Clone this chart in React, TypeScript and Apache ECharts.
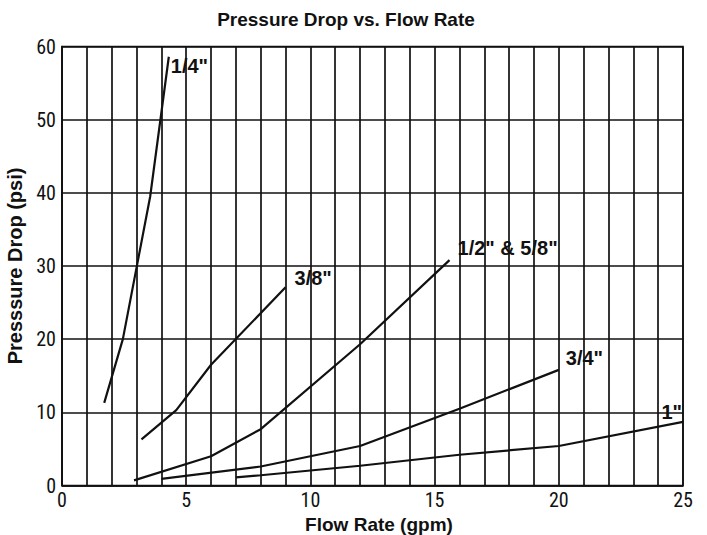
import React, { useEffect, useRef } from "react";
import * as echarts from "echarts";

const BOLD_FONT = "'Liberation Sans', Arial, sans-serif";
const TICK_FONT = "'Roboto Condensed', 'Liberation Sans', sans-serif";

const titleText = "Pressure Drop vs. Flow Rate";
const xName = "Flow Rate (gpm)";
const yName = "Presssure Drop (psi)";
const xMin = 0, xMax = 25, yMin = 0, yMax = 60;

const seriesNames = ['1/4"', '3/8"', '1/2" & 5/8"', '3/4"', '1"'];
const quarter = [[1.7, 11.3], [2.45, 20], [3.55, 39.5], [4.3, 58.6]];
const threeEighths = [[3.2, 6.3], [4.6, 10.3], [6, 16.5], [9, 27.1]];
const halfFiveEighths = [[2.9, 0.7], [6, 4], [8, 7.7], [12, 19.3], [15.6, 30.8]];
const threeQuarter = [[4, 0.9], [8, 2.6], [12, 5.4], [16, 10.5], [20, 15.8]];
const oneInch = [[7, 1.1], [8, 1.4], [12, 2.7], [16, 4.2], [20, 5.4], [25, 8.7]];

const seriesData = [quarter, threeEighths, halfFiveEighths, threeQuarter, oneInch];
const labelOffsets: any[] = [
  { offset: [2, 9] },
  { offset: [9, -9] },
  { offset: [8, -12] },
  { offset: [7, -12] },
  { align: "right", offset: [-1, -10] },
];

export default function App() {
  const ref = useRef<HTMLDivElement>(null);
  useEffect(() => {
    const chart = echarts.init(ref.current!, null, { renderer: "svg" });
    chart.setOption({
      animation: false,
      backgroundColor: "#fff",
      title: {
        text: titleText,
        left: 346,
        textAlign: "center",
        top: 10,
        padding: 0,
        textStyle: { fontFamily: BOLD_FONT, fontWeight: "bold", fontSize: 19, color: "#111" },
      },
      grid: {
        left: 62, right: 24, top: 46.5, bottom: 49.5,
        containLabel: false,
        outerBoundsMode: "none",
        show: true, borderColor: "#111", borderWidth: 1.5, backgroundColor: "transparent",
      },
      xAxis: {
        type: "value", min: xMin, max: xMax, interval: 1,
        name: xName, nameLocation: "middle", nameGap: 29,
        nameTextStyle: {
          fontFamily: BOLD_FONT, fontWeight: "bold", fontSize: 19, color: "#111",
          padding: [0, 0, 0, 13],
        },
        axisLine: { lineStyle: { color: "#111", width: 1.5 } },
        axisTick: { show: false },
        axisLabel: {
          formatter: (v: number) => (v % 5 === 0 ? String(v) : ""),
          fontFamily: TICK_FONT, fontSize: 20, color: "#111", margin: 4,
        },
        splitLine: { show: true, lineStyle: { color: "#111", width: 1.7 } },
      },
      yAxis: {
        type: "value", min: yMin, max: yMax, interval: 10,
        name: yName, nameLocation: "middle", nameGap: 29, nameRotate: 90,
        nameTextStyle: { fontFamily: BOLD_FONT, fontWeight: "bold", fontSize: 20, color: "#111" },
        axisLine: { show: true, lineStyle: { color: "#111", width: 1.5 } },
        axisTick: { show: false },
        axisLabel: { fontFamily: TICK_FONT, fontSize: 20, color: "#111", margin: 6 },
        splitLine: { show: true, lineStyle: { color: "#111", width: 1.5 } },
      },
      series: seriesData.map((d, i) => ({
        type: "line",
        name: seriesNames[i],
        data: d,
        symbol: "none",
        lineStyle: { color: "#111", width: 2.2 },
        endLabel: {
          show: true,
          formatter: "{a}",
          distance: 0,
          ...labelOffsets[i],
          fontFamily: BOLD_FONT, fontWeight: "bold", fontSize: 20, color: "#111",
        },
      })),
    });
    return () => chart.dispose();
  }, []);
  return <div ref={ref} style={{ position: "fixed", left: 0, top: 0, width: 707, height: 535 }} />;
}
